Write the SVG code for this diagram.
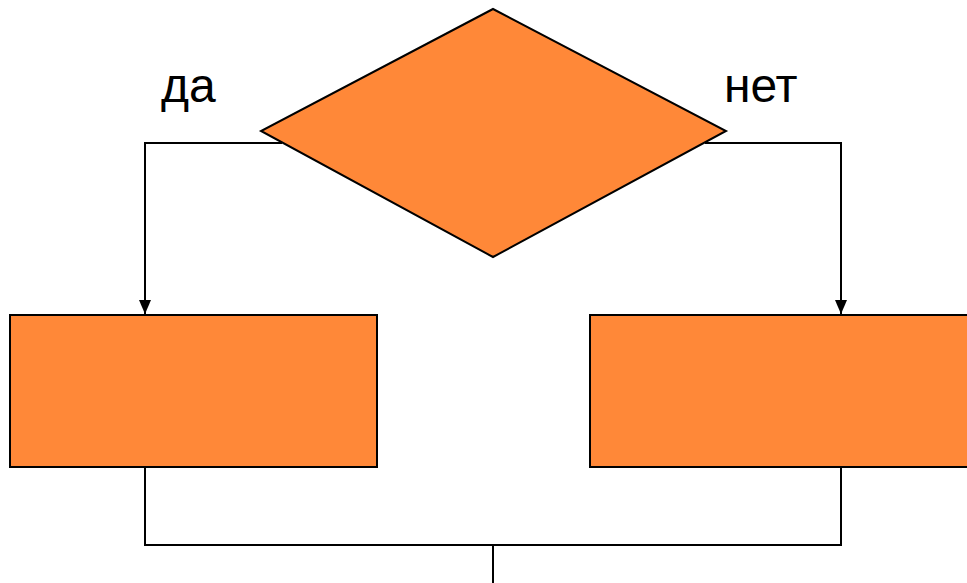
<svg xmlns="http://www.w3.org/2000/svg" width="967" height="583" viewBox="0 0 967 583">
  <style>
    .shape { fill: #FF8838; stroke: #000; stroke-width: 2; }
    .wire { fill: none; stroke: #000; stroke-width: 2; }
    .label { font-family: "Liberation Sans", Arial, sans-serif; font-size: 48px; fill: #000; }
  </style>
  <defs>
    <marker id="arrowhead" viewBox="0 0 14 12" refX="14" refY="6" markerWidth="14" markerHeight="12" markerUnits="userSpaceOnUse" orient="auto">
      <path d="M0,0 L14,6 L0,12 z" fill="#000"/>
    </marker>
  </defs>

  <g id="connectors">
    <path class="wire" d="M282,143 L145,143 L145,314" marker-end="url(#arrowhead)"/>
    <path class="wire" d="M705,143 L841,143 L841,314" marker-end="url(#arrowhead)"/>
    <path class="wire" d="M145,467 L145,545 L841,545 L841,467"/>
    <path class="wire" d="M493,545 L493,583"/>
  </g>

  <g id="decision">
    <polygon class="shape" points="493,9 726,131 493,257 261,131"/>
  </g>
  <g id="yes-branch">
    <rect class="shape" x="10" y="315" width="367" height="152"/>
  </g>
  <g id="no-branch">
    <rect class="shape" x="590" y="315" width="390" height="152"/>
  </g>

  <text class="label" x="161" y="102">да</text>
  <text class="label" x="724" y="102">нет</text>
</svg>
